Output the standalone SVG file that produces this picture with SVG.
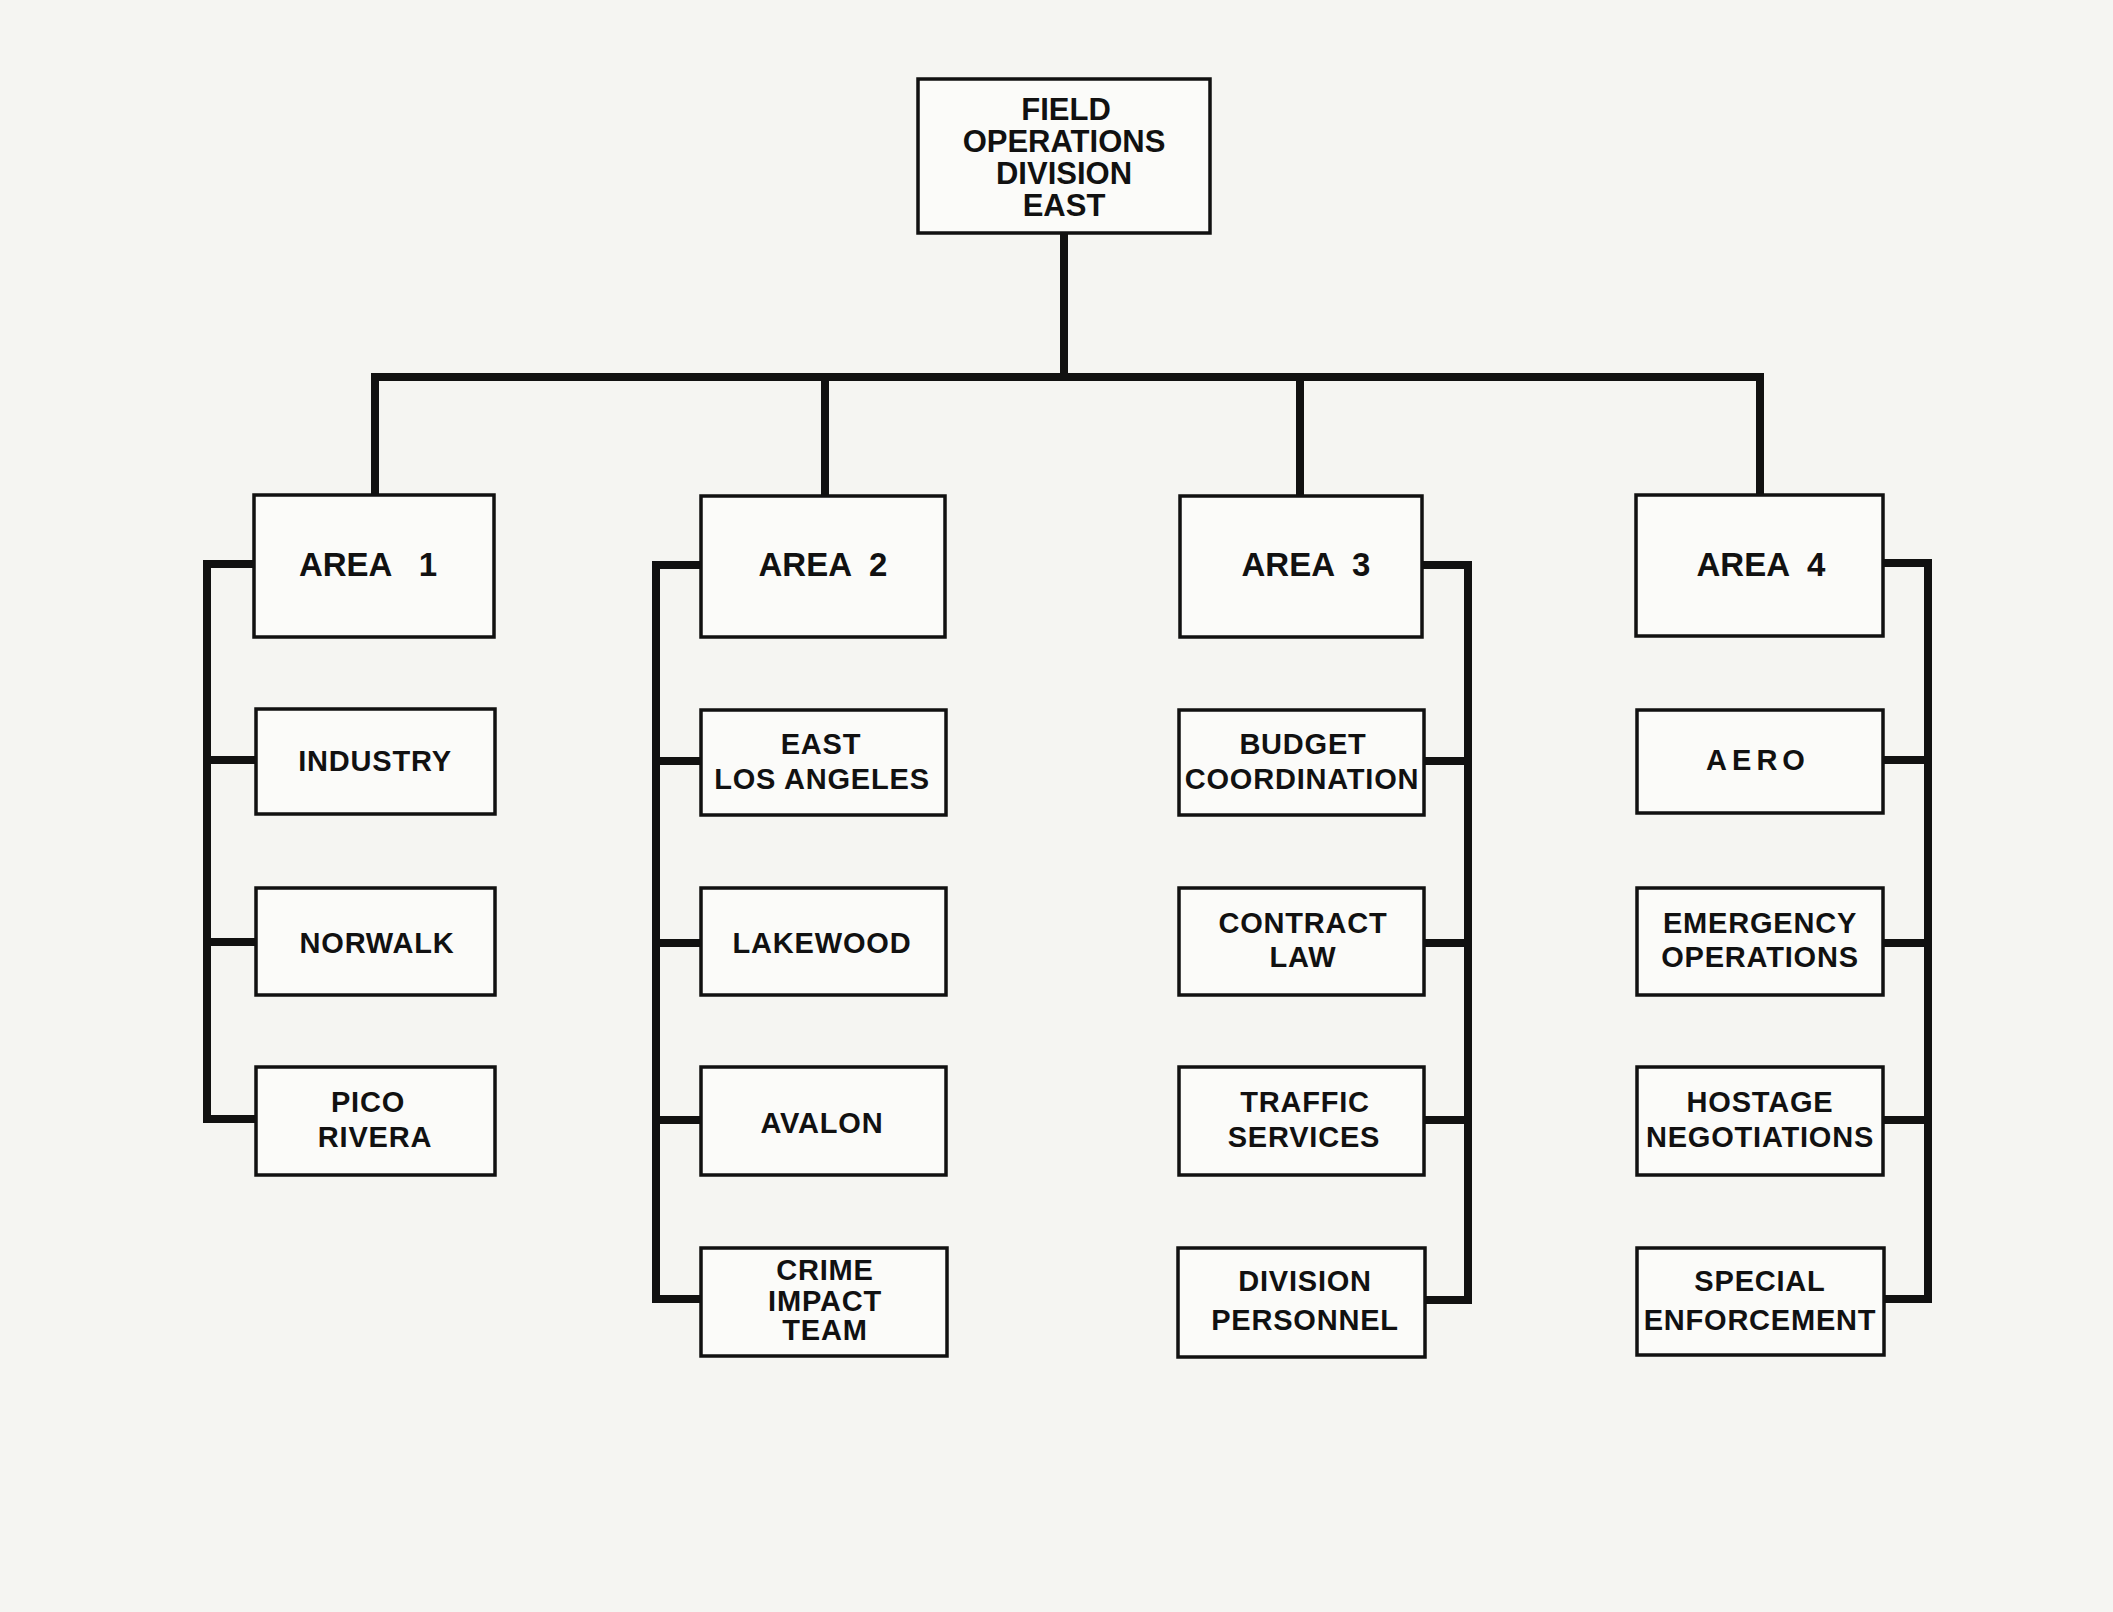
<svg xmlns="http://www.w3.org/2000/svg" width="2113" height="1612" viewBox="0 0 2113 1612">
<style>
.box{fill:#fbfbf9;stroke:#111;stroke-width:3.5}
.c{fill:none;stroke:#111;stroke-width:8;stroke-linejoin:miter;stroke-linecap:square}
text{font-family:"Liberation Sans",Arial,sans-serif;font-weight:bold;fill:#111;text-anchor:middle}
.t{font-size:31px}
.a{font-size:33px}
.s{font-size:29px;letter-spacing:0.8px}
</style>
<rect width="2113" height="1612" fill="#f5f5f2"/>
<g id="connectors">
<path class="c" d="M1064,233 V377"/>
<path class="c" d="M375,377 H1759"/>
<path class="c" d="M375,377 V495 M825,377 V496 M1300,377 V496 M1760,377 V495"/>
<path class="c" d="M254,564 H207 V1119 H256 M207,760 H256 M207,942 H256"/>
<path class="c" d="M701,565 H656 V1299 H701 M656,761 H701 M656,943 H701 M656,1120 H701"/>
<path class="c" d="M1422,565 H1468 V1300 H1424 M1468,761 H1424 M1468,943 H1424 M1468,1120 H1424"/>
<path class="c" d="M1883,563 H1928 V1299 H1883 M1928,760 H1883 M1928,943 H1883 M1928,1120 H1883"/>
</g>
<g id="fod-east"><rect class="box" x="918" y="79" width="292" height="154"/>
<text class="t" x="1066" y="120">FIELD</text><text class="t" x="1064" y="152">OPERATIONS</text><text class="t" x="1064" y="184">DIVISION</text><text class="t" x="1064" y="216">EAST</text></g>
<g id="area1"><rect class="box" x="254" y="495" width="240" height="142"/><text class="a" x="368" y="576" xml:space="preserve">AREA   1</text></g>
<g id="area2"><rect class="box" x="701" y="496" width="244" height="141"/><text class="a" x="823" y="576" xml:space="preserve">AREA  2</text></g>
<g id="area3"><rect class="box" x="1180" y="496" width="242" height="141"/><text class="a" x="1306" y="576" xml:space="preserve">AREA  3</text></g>
<g id="area4"><rect class="box" x="1636" y="495" width="247" height="141"/><text class="a" x="1761" y="576" xml:space="preserve">AREA  4</text></g>
<g id="industry"><rect class="box" x="256" y="709" width="239" height="105"/><text class="s" x="375" y="771">INDUSTRY</text></g>
<g id="norwalk"><rect class="box" x="256" y="888" width="239" height="107"/><text class="s" x="377" y="953">NORWALK</text></g>
<g id="pico-rivera"><rect class="box" x="256" y="1067" width="239" height="108"/><text class="s" x="368" y="1112">PICO</text><text class="s" x="375" y="1147">RIVERA</text></g>
<g id="east-la"><rect class="box" x="701" y="710" width="245" height="105"/><text class="s" x="821" y="754">EAST</text><text class="s" x="822" y="789">LOS ANGELES</text></g>
<g id="lakewood"><rect class="box" x="701" y="888" width="245" height="107"/><text class="s" x="822" y="953">LAKEWOOD</text></g>
<g id="avalon"><rect class="box" x="701" y="1067" width="245" height="108"/><text class="s" x="822" y="1133">AVALON</text></g>
<g id="crime-impact-team"><rect class="box" x="701" y="1248" width="246" height="108"/><text class="s" x="825" y="1280">CRIME</text><text class="s" x="825" y="1311">IMPACT</text><text class="s" x="825" y="1340">TEAM</text></g>
<g id="budget-coordination"><rect class="box" x="1179" y="710" width="245" height="105"/><text class="s" x="1303" y="754">BUDGET</text><text class="s" x="1302" y="789">COORDINATION</text></g>
<g id="contract-law"><rect class="box" x="1179" y="888" width="245" height="107"/><text class="s" x="1303" y="933">CONTRACT</text><text class="s" x="1303" y="967">LAW</text></g>
<g id="traffic-services"><rect class="box" x="1179" y="1067" width="245" height="108"/><text class="s" x="1305" y="1112">TRAFFIC</text><text class="s" x="1304" y="1147">SERVICES</text></g>
<g id="division-personnel"><rect class="box" x="1178" y="1248" width="247" height="109"/><text class="s" x="1305" y="1291">DIVISION</text><text class="s" x="1305" y="1330">PERSONNEL</text></g>
<g id="aero"><rect class="box" x="1637" y="710" width="246" height="103"/><text class="s" x="1758" y="770" style="letter-spacing:5px">AERO</text></g>
<g id="emergency-operations"><rect class="box" x="1637" y="888" width="246" height="107"/><text class="s" x="1760" y="933">EMERGENCY</text><text class="s" x="1760" y="967">OPERATIONS</text></g>
<g id="hostage-negotiations"><rect class="box" x="1637" y="1067" width="246" height="108"/><text class="s" x="1760" y="1112">HOSTAGE</text><text class="s" x="1760" y="1147">NEGOTIATIONS</text></g>
<g id="special-enforcement"><rect class="box" x="1637" y="1248" width="247" height="107"/><text class="s" x="1760" y="1291">SPECIAL</text><text class="s" x="1760" y="1330">ENFORCEMENT</text></g>
</svg>
